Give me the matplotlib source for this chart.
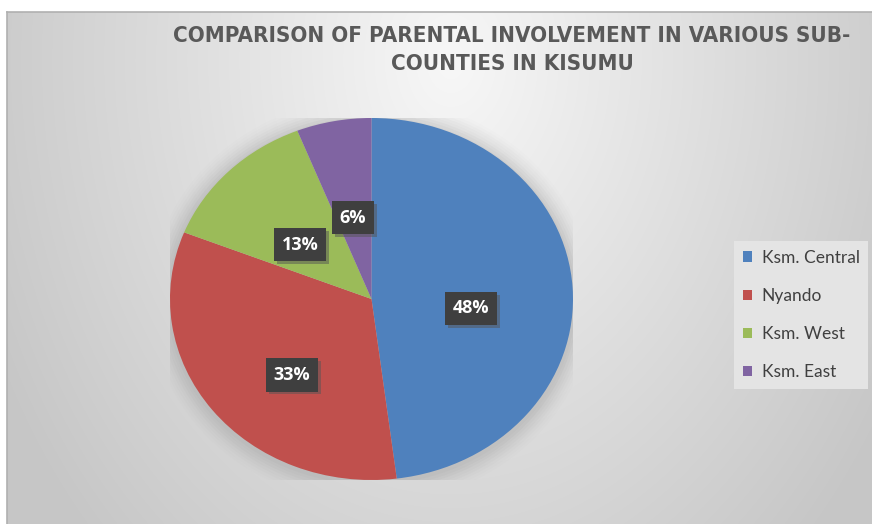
import numpy as np
import matplotlib.pyplot as plt
import matplotlib.patheffects as pe
from matplotlib.patches import Ellipse

# sub-county shares of parental involvement (%)
regions = ['Ksm. Central', 'Nyando', 'Ksm. West', 'Ksm. East']
shares = [48, 33, 13, 6]
colors = ['#4f81bd', '#c0504d', '#9bbb59', '#8064a2']
title = 'COMPARISON OF PARENTAL INVOLVEMENT IN VARIOUS SUB-\nCOUNTIES IN KISUMU'

W, H = 872, 524
fig = plt.figure(figsize=(W / 100, H / 100), dpi=100)
fig.patch.set_facecolor('white')

# chart area with a soft radial grey gradient
bg = fig.add_axes([7 / W, 0, 1 - 7 / W, 1 - 12 / H])
yy, xx = np.mgrid[12:H, 7:W]
r = np.sqrt(((xx - 450) / 450.0) ** 2 + ((yy - 60) / 600.0) ** 2)
val = np.clip(0.97 - 0.17 * r, 0.78, 1)
bg.imshow(np.dstack([val, val, val]), aspect='auto', extent=[0, 1, 0, 1])
bg.set_xlim(0, 1)
bg.set_ylim(0, 1)
bg.set_xticks([])
bg.set_yticks([])
for side in ['right', 'bottom']:
    bg.spines[side].set_visible(False)
for side in ['top', 'left']:
    bg.spines[side].set_color('#b0b0b0')
    bg.spines[side].set_linewidth(1.2)

fig.text(512 / W, 1 - 50 / H, title, ha='center', va='center', fontsize=16,
         fontweight='bold', fontstretch='condensed', color='#595959',
         linespacing=1.45, family='DejaVu Sans')

# pie (slightly stretched horizontally)
ax = fig.add_axes([170 / W, 1 - 480 / H, 403 / W, 362 / H])
ax.set_xlim(-1, 1)
ax.set_ylim(-1, 1)
ax.axis('off')

# soft shadow around the pie
for i, a in enumerate(np.linspace(0.06, 0.015, 8)):
    ax.add_patch(Ellipse((0.0, -0.01), 2 + 0.025 * (i + 1), 2 + 0.03 * (i + 1),
                         facecolor='#808080', edgecolor='none', alpha=a, zorder=0))

wedges, _ = ax.pie(shares, colors=colors, startangle=90, counterclock=False,
                   radius=1, frame=True, wedgeprops=dict(linewidth=0))
ax.set_aspect('auto')
ax.set_xlim(-1, 1)
ax.set_ylim(-1, 1)
ax.axis('off')

# data label positions inside the slices
label_pos = [(0.494, -0.052), (-0.395, -0.42), (-0.355, 0.30), (-0.092, 0.448)]
for v, (x, y) in zip(shares, label_pos):
    t = ax.text(x, y, f'{v}%', ha='center', va='center', fontsize=13,
                fontweight='bold', color='white', family='Open Sans', zorder=5,
                bbox=dict(boxstyle='square,pad=0.42', facecolor='#3f3f3f',
                          edgecolor='none'))
    t.get_bbox_patch().set_path_effects(
        [pe.SimplePatchShadow(offset=(2, -2), shadow_rgbFace='#555555', alpha=0.5),
         pe.Normal()])

# legend on a flat lighter panel
leg = fig.legend(wedges, regions, loc='upper left',
                 bbox_to_anchor=(734 / W, 1 - 241 / H), frameon=True,
                 fancybox=False, facecolor='#e4e4e4', edgecolor='none',
                 framealpha=1, handlelength=0.55, handleheight=0.55,
                 handletextpad=0.55, labelspacing=1.28, borderpad=0.5,
                 borderaxespad=0, prop=dict(family='Lato', size=12.5))
for txt in leg.get_texts():
    txt.set_color('#404040')

fig.savefig('out.png', dpi=100)
